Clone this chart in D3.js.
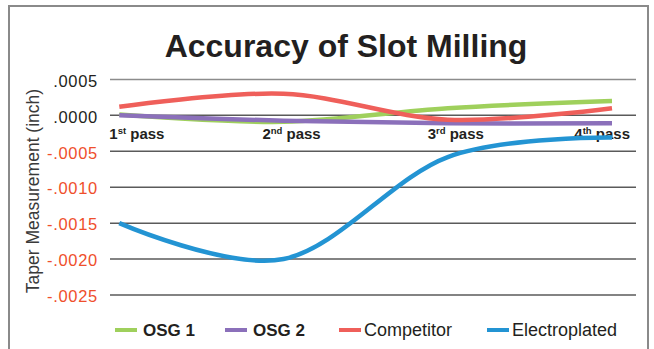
<!DOCTYPE html>
<html>
<head>
<meta charset="utf-8">
<script src="https://cdn.jsdelivr.net/npm/d3@7/dist/d3.min.js"></script>
<style>
  html, body { margin: 0; padding: 0; background: #fff; }
  svg { display: block; font-family: "Liberation Sans", Arial, Helvetica, sans-serif; }
</style>
</head>
<body>
<svg id="chart" width="654" height="349"></svg>
<script>
// Passes along the x axis (ordinal number + superscript suffix)
const passes = ["1st pass", "2nd pass", "3rd pass", "4th pass"];
const passNumbers = ["1", "2", "3", "4"];
const passSuffixes = ["st", "nd", "rd", "th"];

// Taper measurement (inch) for each tool, one value per pass
const osg1 = [0.00001, -0.00009, 0.00010, 0.00020];
const osg2 = [0.00000, -0.000075, -0.00011, -0.00011];
const competitor = [0.00012, 0.00030, -0.00006, 0.00010];
const electroplated = [-0.00150, -0.00200, -0.00058, -0.00031];

const seriesNames = ["OSG 1", "OSG 2", "Competitor", "Electroplated"];
const seriesColors = ["#9fd05c", "#8b70ba", "#ef5f5a", "#2394d3"];
const seriesBold = [true, true, false, false];

// Y axis tick values
const yTicks = [0.0005, 0.0000, -0.0005, -0.0010, -0.0015, -0.0020, -0.0025];

const svg = d3.select("#chart");

// Outer frame
svg.append("path")
  .attr("d", "M9,352 V6 H648 V352")
  .attr("fill", "none")
  .attr("stroke", "#8a8a8a")
  .attr("stroke-width", 2);

// Title
svg.append("text")
  .attr("x", 346)
  .attr("y", 57)
  .attr("text-anchor", "middle")
  .attr("font-size", 32)
  .attr("font-weight", "bold")
  .attr("fill", "#231f20")
  .text("Accuracy of Slot Milling");

const gridLeft = 110, gridRight = 636;

const x = d3.scalePoint().domain(passes).range([119.3, 612]);
const y = d3.scaleLinear().domain([-0.0025, 0.0005]).range([295, 79.4]);

// Horizontal gridlines
svg.append("g")
  .selectAll("line")
  .data(yTicks)
  .join("line")
  .attr("x1", gridLeft)
  .attr("x2", gridRight)
  .attr("y1", d => y(d))
  .attr("y2", d => y(d))
  .attr("stroke", d => d > 0 ? "#8c8c8c" : "#5a5a5a")
  .attr("stroke-width", 1.5);

// Y tick labels: ".0005", "-.0005" style, negatives in red
const fmt = d3.format(".4f");
const tickLabel = d => {
  const sign = d < -1e-12 ? "-" : "";
  return sign + fmt(Math.abs(d)).replace(/^0\./, ".");
};
svg.append("g")
  .selectAll("text")
  .data(yTicks)
  .join("text")
  .attr("x", 98)
  .attr("y", d => y(d) + 1.5)
  .attr("dy", "0.35em")
  .attr("text-anchor", "end")
  .attr("font-size", 16.5)
  .attr("letter-spacing", 0.7)
  .attr("fill", d => d < 0 ? "#ef4f2c" : "#231f20")
  .text(tickLabel);

// Y axis title
svg.append("text")
  .attr("transform", "translate(39,191) rotate(-90)")
  .attr("text-anchor", "middle")
  .attr("font-size", 17.5)
  .attr("fill", "#3a3a3a")
  .text("Taper Measurement (inch)");

// Category labels with superscript suffix
const catG = svg.append("g");
passes.forEach((p, i) => {
  const last = passes.length - 1;
  let anchor = "middle", px = x(p) + 8;
  if (i === 0) { anchor = "start"; px = x(p) - 10; }
  if (i === last) { anchor = "end"; px = x(p) + 18; }
  const t = catG.append("text")
    .attr("x", px)
    .attr("y", 138.5)
    .attr("text-anchor", anchor)
    .attr("font-size", 15)
    .attr("font-weight", "bold")
    .attr("fill", "#231f20");
  t.append("tspan").text(passNumbers[i]);
  t.append("tspan").attr("font-size", 9.5).attr("dy", -5).text(passSuffixes[i]);
  t.append("tspan").attr("dy", 5).text(" pass");
});

// Smoothed series lines
const allSeries = [osg1, osg2, competitor, electroplated];
const line = d3.line()
  .x((d, i) => x(passes[i]))
  .y(d => y(d))
  .curve(d3.curveCardinal.tension(0));

svg.append("g")
  .selectAll("path")
  .data(allSeries)
  .join("path")
  .attr("d", d => line(d))
  .attr("fill", "none")
  .attr("stroke", (d, i) => seriesColors[i])
  .attr("stroke-width", 4.5)
  .attr("stroke-linecap", "butt")
  .attr("stroke-linejoin", "round");

// Legend
const legendX = [115, 225, 339, 487];
const legend = svg.append("g");
seriesNames.forEach((name, i) => {
  legend.append("line")
    .attr("x1", legendX[i])
    .attr("x2", legendX[i] + 22)
    .attr("y1", 330)
    .attr("y2", 330)
    .attr("stroke", seriesColors[i])
    .attr("stroke-width", 4);
  legend.append("text")
    .attr("x", legendX[i] + (seriesBold[i] ? 28 : 25))
    .attr("y", 336)
    .attr("font-size", seriesBold[i] ? 17 : 18)
    .attr("font-weight", seriesBold[i] ? "bold" : "normal")
    .attr("fill", "#231f20")
    .text(name);
});
</script>
</body>
</html>
